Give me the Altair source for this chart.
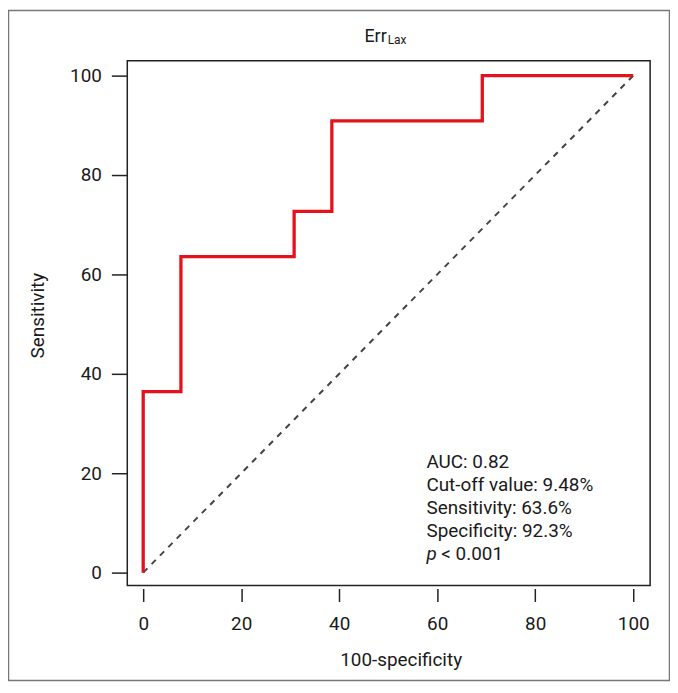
import altair as alt
import pandas as pd

# ROC curve points (100-specificity, sensitivity)
fpr = [0, 0, 7.7, 7.7, 30.8, 30.8, 38.5, 38.5, 69.2, 69.2, 100]
tpr = [0, 36.4, 36.4, 63.6, 63.6, 72.7, 72.7, 90.9, 90.9, 100, 100]
diag_x = [0, 100]
diag_y = [0, 100]
tick_values = [0, 20, 40, 60, 80, 100]
stat_lines = ["AUC: 0.82", "Cut-off value: 9.48%", "Sensitivity: 63.6%", "Specificity: 92.3%"]
stat_y = [22.2, 17.6, 13.0, 8.4]
p_line_y = 3.8
stat_x = 57.8

FONT = "Roboto"
TXT = "#1a1a1a"
FS = 19
W, H = 526, 528
xs = alt.Scale(domain=[-3.25, 103.45], nice=False, zero=False)
ys = alt.Scale(domain=[-2.6, 103], nice=False, zero=False)

roc = pd.DataFrame({"x": fpr, "y": tpr, "i": range(len(fpr))})
diag = pd.DataFrame({"x": diag_x, "y": diag_y})
stats = pd.DataFrame({"t": stat_lines, "y": stat_y, "x": [stat_x] * len(stat_lines)})
pdf = pd.DataFrame({"x": [stat_x], "y": [p_line_y]})

x_axis = alt.Axis(values=tick_values, domain=False, grid=False, tickSize=13, offset=3,
                  tickColor="#222", tickWidth=1.5, labelFont=FONT, labelFontSize=FS,
                  labelColor=TXT, labelPadding=13, title="100-specificity",
                  titleFont=FONT, titleFontSize=FS, titleFontWeight="normal",
                  titleColor=TXT, titleX=275, titleY=71, titleBaseline="middle",
                  titleAlign="center")
y_axis = alt.Axis(values=tick_values, domain=False, grid=False, tickSize=16,
                  tickColor="#222", tickWidth=1.5, labelFont=FONT, labelFontSize=FS,
                  labelColor=TXT, labelPadding=10, title="Sensitivity",
                  titleFont=FONT, titleFontSize=FS, titleFontWeight="normal",
                  titleColor=TXT, titleX=-90, titleY=256, titleBaseline="middle",
                  titleAlign="center")

diag_layer = alt.Chart(diag).mark_line(color="#444", strokeWidth=2, strokeDash=[6, 6]).encode(
    x=alt.X("x:Q", scale=xs, axis=x_axis),
    y=alt.Y("y:Q", scale=ys, axis=y_axis),
)

roc_layer = alt.Chart(roc).mark_line(color="#e3121b", strokeWidth=3.3, strokeJoin="miter").encode(
    x=alt.X("x:Q", scale=xs),
    y=alt.Y("y:Q", scale=ys),
    order="i:Q",
)

stat_layer = alt.Chart(stats).mark_text(align="left", baseline="middle", font=FONT,
                                        fontSize=FS, color=TXT).encode(
    x=alt.X("x:Q", scale=xs), y=alt.Y("y:Q", scale=ys), text="t:N")

p_layer = alt.Chart(pdf).mark_text(align="left", baseline="middle", font=FONT, fontSize=FS,
                                   fontStyle="italic", color=TXT).encode(
    x=alt.X("x:Q", scale=xs), y=alt.Y("y:Q", scale=ys), text=alt.value("p"))
p_rest = alt.Chart(pdf).mark_text(align="left", baseline="middle", font=FONT, fontSize=FS,
                                  color=TXT, dx=15).encode(
    x=alt.X("x:Q", scale=xs), y=alt.Y("y:Q", scale=ys), text=alt.value("< 0.001"))

one = alt.Data(values=[{}])
title_main = alt.Chart(one).mark_text(align="right", baseline="alphabetic", font=FONT,
                                      fontSize=18, color=TXT).encode(
    x=alt.value(261), y=alt.value(-19), text=alt.value("Err"))
title_sub = alt.Chart(one).mark_text(align="left", baseline="alphabetic", font=FONT,
                                     fontSize=12, color=TXT).encode(
    x=alt.value(262), y=alt.value(-17), text=alt.value("Lax"))

border = alt.Chart(one).mark_rect(fill=None, stroke="#777", strokeWidth=1.5).encode(
    x=alt.value(-119.5), x2=alt.value(545.5), y=alt.value(-50.5), y2=alt.value(623.5))

chart = alt.layer(border, diag_layer, roc_layer, stat_layer, p_layer, p_rest,
                  title_main, title_sub).properties(
    width=W, height=H,
    autosize=alt.AutoSizeParams(type="none"),
    padding={"left": 120, "top": 51, "right": 20, "bottom": 96},
    background="white",
).configure_view(stroke="#222", strokeWidth=1.5)

chart.save("out.html", embed_options={"renderer": "svg", "actions": False})
